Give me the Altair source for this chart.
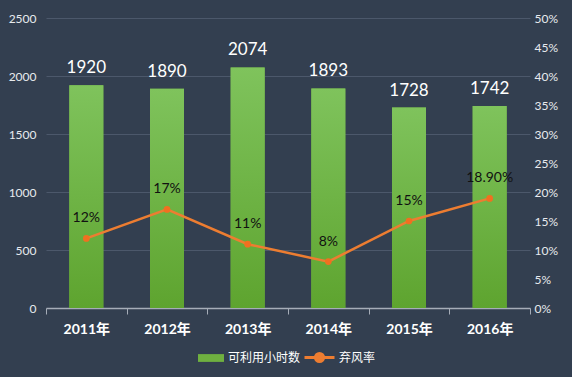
import altair as alt
import pandas as pd

years = ["2011年", "2012年", "2013年", "2014年", "2015年", "2016年"]
hours = [1920, 1890, 2074, 1893, 1728, 1742]
rates = [12, 17, 11, 8, 15, 18.9]
rate_labels = ["12%", "17%", "11%", "8%", "15%", "18.90%"]
series = ["可利用小时数", "弃风率"]

df = pd.DataFrame({"year": years, "hours": hours, "rate": [r / 100 for r in rates], "rlabel": rate_labels,
                   "s1": [series[0]] * 6, "s2": [series[1]] * 6})

FONT = "Lato, Noto Sans CJK SC, sans-serif"
BG = "#333f50"

x = alt.X("year:N", sort=years, title=None,
          scale=alt.Scale(paddingInner=0, paddingOuter=0),
          axis=alt.Axis(labelAngle=0, labelFontWeight="bold", labelFontSize=14, labelColor="#ffffff",
                        labelFont=FONT, labelPadding=8, domainColor="#a6adb8", domainWidth=1.5,
                        tickColor="#a6adb8", tickSize=6, tickBand="extent", grid=False))

yl = alt.Y("hours:Q", title=None,
           scale=alt.Scale(domain=[0, 2500], nice=False),
           axis=alt.Axis(values=[0, 500, 1000, 1500, 2000, 2500], format="d", labelColor="#e8eaee",
                         labelFontSize=12, labelFont=FONT, domain=False, ticks=False, labelPadding=10,
                         grid=True, gridColor="#4c586b", gridWidth=1))

base_bar = alt.Chart(df).mark_bar(size=34).encode(
    x=x, y=yl,
    fill=alt.Fill("s1:N", scale=alt.Scale(domain=[series[0]], range=["#6fb040"]),
                  legend=alt.Legend(title=None, orient="none", legendX=152, legendY=327, padding=0,
                                    symbolType="M-1,-0.3H1V0.3H-1Z", symbolSize=676,
                                    symbolStrokeWidth=0, labelColor="#ffffff", labelFontSize=12,
                                    labelFont=FONT, labelOffset=4)))

grad_bar = alt.Chart(df).mark_bar(
    size=34,
    fill=alt.Gradient(gradient="linear", x1=0, x2=0, y1=0, y2=1,
                      stops=[alt.GradientStop(offset=0, color="#7fc35c"),
                             alt.GradientStop(offset=1, color="#5ea42f")])
).encode(x=x, y=yl)

bar_text = alt.Chart(df).mark_text(dy=-17, fontSize=17, color="#ffffff", font=FONT).encode(
    x=x, y=yl, text="hours:Q")

yr = alt.Y("rate:Q", title=None,
           scale=alt.Scale(domain=[0, 0.5], nice=False),
           axis=alt.Axis(orient="right", format=".0%", values=[i * 0.05 for i in range(11)],
                         labelColor="#e8eaee", labelFontSize=12, labelFont=FONT, domain=False,
                         ticks=False, grid=False, labelPadding=4))

line = alt.Chart(df).mark_line(strokeWidth=2.5).encode(
    x=x, y=yr,
    stroke=alt.Stroke("s2:N", scale=alt.Scale(domain=[series[1]], range=["#ed7d31"]),
                      legend=alt.Legend(title=None, orient="none", legendX=257, legendY=323, padding=0,
                                        symbolType="M-1,0H1M0.27,0A0.27,0.27 0 1,1 -0.27,0A0.27,0.27 0 1,1 0.27,0Z",
                                        symbolSize=900, symbolStrokeWidth=3, symbolFillColor="#ed7d31",
                                        labelColor="#ffffff", labelFontSize=12, labelFont=FONT,
                                        labelOffset=3)))

pts = alt.Chart(df).mark_point(filled=True, size=45, color="#f07020", opacity=1).encode(x=x, y=yr)

rate_text = alt.Chart(df).mark_text(dy=-20, fontSize=14, color="#111111", font=FONT).encode(
    x=x, y=yr, text="rlabel:N")

left = alt.layer(base_bar, grad_bar, bar_text)
right = alt.layer(line, pts, rate_text)

chart = alt.layer(left, right).resolve_scale(y="independent", fill="independent", stroke="independent").properties(
    width=484, height=290,
    autosize=alt.AutoSizeParams(type="none"),
    padding={"left": 46, "top": 18, "right": 42, "bottom": 69},
    background=BG,
).configure_view(stroke=None)

chart.save("out.html", embed_options={"renderer": "svg", "actions": False})
